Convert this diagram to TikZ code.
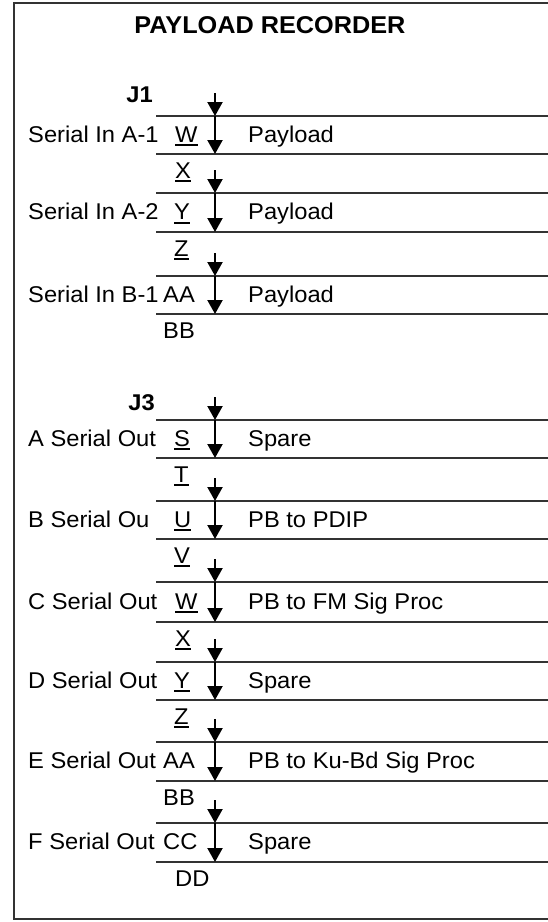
\documentclass[tikz,border=0pt]{standalone}
\usepackage{fontspec}
\setmainfont{Liberation Sans}[FakeStretch=1.04]
\usetikzlibrary{arrows.meta}
\newcommand{\pinul}[1]{\setbox0\hbox{#1}\rlap{\rule[-4pt]{\wd0}{1.7pt}}\box0}
\begin{document}
\begin{tikzpicture}[x=1pt,y=-1pt,
  txt/.style={font=\fontsize{22.8}{27}\selectfont, inner sep=0pt, anchor=base west},
  hdr/.style={font=\fontsize{22.8}{27}\selectfont\bfseries, inner sep=0pt, anchor=base east},
  ttl/.style={font=\fontsize{24.3}{29}\selectfont\bfseries, inner sep=0pt, anchor=base},
  rulel/.style={line width=1.4pt, draw=black!80},
  frame/.style={line width=1.8pt, draw=black!80},
  sig/.style={line width=2.2pt, -{Triangle[length=14pt,width=15pt]}}]
\useasboundingbox (0,0) rectangle (548,922);
% frame (open on the right)
\coordinate (fa) at (548,3);
\coordinate (fb) at (14,3);
\coordinate (fc) at (14,919);
\coordinate (fd) at (548,919);
\draw[frame] (fa) -- (fb) -- (fc) -- (fd);
\node[ttl] (title) at (270,33) {PAYLOAD RECORDER};
\node[hdr] (J1) at (153,102) {J1};
\node[hdr] (J3) at (155,410) {J3};
\foreach \i/\T/\B/\lab/\px/\pin/\desc/\nx/\nxt in {
  1/116/154/Serial In A-1/175/\pinul{W}/Payload/175/\pinul{X},
  2/193/232/Serial In A-2/174/\pinul{Y}/Payload/174/\pinul{Z},
  3/276/314/Serial In B-1/163/AA/Payload/163/BB,
  4/420/458/A Serial Out/174/\pinul{S}/Spare/174/\pinul{T},
  5/501/539/B Serial Ou/174/\pinul{U}/PB to PDIP/174/\pinul{V},
  6/582/622/C Serial Out/175/\pinul{W}/PB to FM Sig Proc/175/\pinul{X},
  7/662/700/D Serial Out/174/\pinul{Y}/Spare/174/\pinul{Z},
  8/742/781/E Serial Out/163/AA/PB to Ku-Bd Sig Proc/163/BB,
  9/823/862/F Serial Out/163/CC/Spare/175/DD}
{
  \coordinate (s\i) at (215,{\T-23});
  \coordinate (t\i) at (215,\T);
  \coordinate (b\i) at (215,\B);
  \coordinate (tl\i) at (156,\T);
  \coordinate (tr\i) at (548,\T);
  \coordinate (bl\i) at (156,\B);
  \coordinate (br\i) at (548,\B);
  \draw[rulel] (tl\i) -- (tr\i);
  \draw[rulel] (bl\i) -- (br\i);
  \draw[sig] (s\i) -- (t\i);
  \draw[sig] (t\i) -- (b\i);
  \node[txt] (L\i) at (28,{(\T+\B)/2+7}) {\lab};
  \node[txt] (P\i) at (\px,{(\T+\B)/2+7}) {\pin};
  \node[txt] (D\i) at (248,{(\T+\B)/2+7}) {\desc};
  \node[txt] (N\i) at (\nx,{\B+24}) {\nxt};
}
\end{tikzpicture}
\end{document}
